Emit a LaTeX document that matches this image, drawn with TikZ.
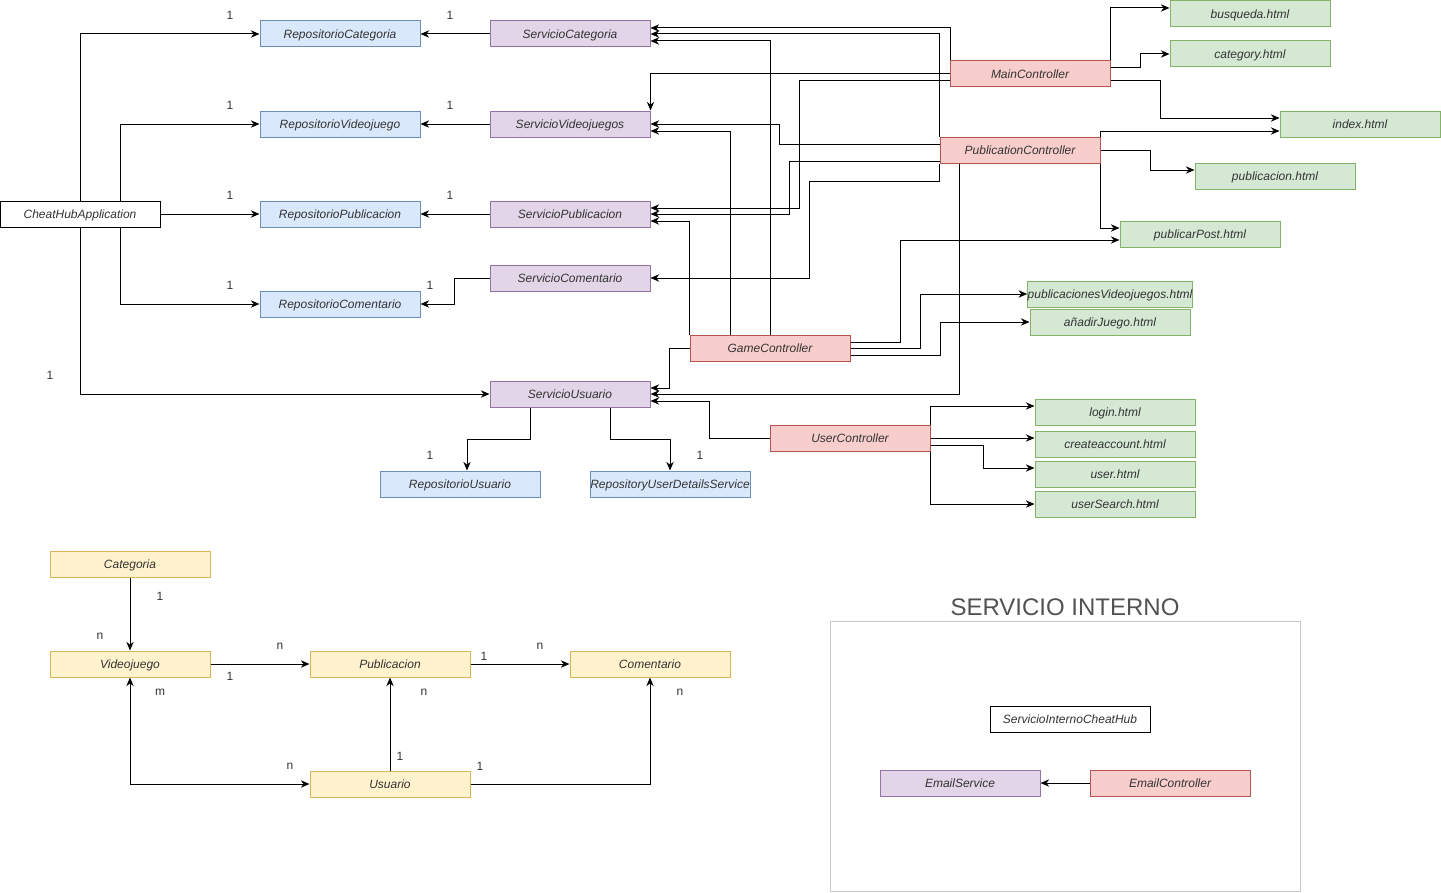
\documentclass[tikz,border=0pt]{standalone}
\usepackage{fontspec}
\setmainfont{Liberation Sans}
\usetikzlibrary{arrows.meta,calc}
\definecolor{repoF}{HTML}{DAE8FC}\definecolor{repoD}{HTML}{6C8EBF}
\definecolor{servF}{HTML}{E1D5E7}\definecolor{servD}{HTML}{9673A6}
\definecolor{ctrlF}{HTML}{F8CECC}\definecolor{ctrlD}{HTML}{B85450}
\definecolor{htmlF}{HTML}{D5E8D4}\definecolor{htmlD}{HTML}{82B366}
\definecolor{entF}{HTML}{FFF2CC}\definecolor{entD}{HTML}{D6B656}
\definecolor{txt}{HTML}{333333}
\definecolor{frameD}{HTML}{C8C8C8}
\begin{document}
\begin{tikzpicture}[x=0.75pt,y=-0.75pt,
  box/.style={draw, minimum width=120pt, minimum height=19.5pt, inner sep=0pt,
    text height=8.1pt, text depth=1.9pt,
    font=\itshape\fontsize{9}{11}\selectfont, text=txt, line width=0.75pt},
  plain/.style={box, fill=white, draw=black},
  repo/.style={box, fill=repoF, draw=repoD},
  serv/.style={box, fill=servF, draw=servD},
  ctrl/.style={box, fill=ctrlF, draw=ctrlD},
  page/.style={box, fill=htmlF, draw=htmlD},
  ent/.style={box, fill=entF, draw=entD},
  arr/.style={-{Stealth[length=6.5pt,width=5.5pt]}, line width=0.75pt},
  dblarr/.style={{Stealth[length=6.5pt,width=5.5pt]}-{Stealth[length=6.5pt,width=5.5pt]}, line width=0.75pt},
  lbl/.style={font=\fontsize{9}{11}\selectfont, text=txt, inner sep=0pt}
]
\useasboundingbox (0,0) rectangle (1441,892);

% ---------- nodes ----------
\node[plain] (app) at (80,214) {CheatHubApplication};
\node[repo] (rc) at (340,34) {RepositorioCategoria};
\node[repo] (rv) at (340,124) {RepositorioVideojuego};
\node[repo] (rp) at (340,214) {RepositorioPublicacion};
\node[repo] (rcom) at (340,304) {RepositorioComentario};
\node[serv] (sc) at (570,34) {ServicioCategoria};
\node[serv] (sv) at (570,124) {ServicioVideojuegos};
\node[serv] (sp) at (570,214) {ServicioPublicacion};
\node[serv] (scom) at (570,278) {ServicioComentario};
\node[serv] (su) at (570,394) {ServicioUsuario};
\node[repo] (ru) at (460,484) {RepositorioUsuario};
\node[repo] (rud) at (670,484) {RepositoryUserDetailsService};
\node[ctrl] (mc) at (1030,74) {MainController};
\node[ctrl] (pc) at (1020,150) {PublicationController};
\node[ctrl] (gc) at (770,348) {GameController};
\node[ctrl] (uc) at (850,438) {UserController};
\node[page] (bq) at (1250,14) {busqueda.html};
\node[page] (cat) at (1250,54) {category.html};
\node[page] (idx) at (1360,124) {index.html};
\node[page] (pub) at (1275,176) {publicacion.html};
\node[page] (pp) at (1200,234) {publicarPost.html};
\node[page] (pvj) at (1110,294) {publicacionesVideojuegos.html};
\node[page] (aj) at (1110,322) {añadirJuego.html};
\node[page] (login) at (1115,412) {login.html};
\node[page] (ca) at (1115,444) {createaccount.html};
\node[page] (usr) at (1115,474) {user.html};
\node[page] (us) at (1115,504) {userSearch.html};

\node[ent] (ecat) at (130,564) {Categoria};
\node[ent] (evj) at (130,664) {Videojuego};
\node[ent] (epub) at (390,664) {Publicacion};
\node[ent] (ecom) at (650,664) {Comentario};
\node[ent] (eusr) at (390,784) {Usuario};

\draw[frameD, line width=0.75pt] (830,621) rectangle (1300,891);
\node[font=\fontsize{18}{22}\selectfont, text=txt!85!white, inner sep=0pt] (title) at (1065,607) {SERVICIO INTERNO};
\node[plain] (sich) at (1070,719) {ServicioInternoCheatHub};
\node[serv] (es) at (960,783) {EmailService};
\node[ctrl] (ec) at (1170,783) {EmailController};

% ---------- application -> repos ----------
\draw[arr] (app.north) |- (rc);
\draw[arr] ($(app.north)+(40,0)$) |- (rv);
\draw[arr] (app) -- (rp);
\draw[arr] ($(app.south)+(40,0)$) |- (rcom);
\draw[arr] (app.south) |- (su);

% ---------- services -> repos ----------
\draw[arr] (sc) -- (rc);
\draw[arr] (sv) -- (rv);
\draw[arr] (sp) -- (rp);
\draw[arr] (scom.west) -- ++(-35,0) |- (rcom.east);
\draw[arr] ($(su.south)+(-40,0)$) -- ++(0,32) -| ($(ru.north)+(7,0)$);
\draw[arr] ($(su.south)+(40,0)$) -- ++(0,32) -| (rud.north);

% ---------- MainController ----------
\draw[arr] ($(mc.north west)+(1,0)$) |- ($(sc.east)+(0,-6)$);
\draw[arr] (mc.west) -| (sv.north east);
\draw[arr] ($(mc.west)+(0,7)$) -- ++(-150,0) |- ($(sp.east)+(0,-6)$);
\draw[arr] (mc.north east) |- ($(bq.west)+(0,-6)$);
\draw[arr] ($(mc.east)+(0,-6)$) -- ++(30,0) |- (cat.west);
\draw[arr] ($(mc.east)+(0,7)$) -- ++(50,0) |- ($(idx.west)+(0,-6)$);

% ---------- PublicationController ----------
\draw[arr] (pc.north west) |- (sc.east);
\draw[arr] (pc.south west) -- ++(0,18) -- ++(-130,0) |- (scom.east);
\draw[arr] ($(pc.west)+(0,-6)$) -- ++(-160,0) |- (sv.east);
\draw[arr] ($(pc.west)+(0,11)$) -- ++(-150,0) |- (sp.east);
\draw[arr] ($(pc.south west)+(20,0)$) |- (su.east);
\draw[arr] (pc.north east) |- ($(idx.west)+(0,7)$);
\draw[arr] (pc.east) -- ++(50,0) |- ($(pub.west)+(0,-6)$);
\draw[arr] (pc.south east) |- ($(pp.west)+(0,-6)$);

% ---------- GameController ----------
\draw[arr] (gc.north) |- ($(sc.east)+(0,7)$);
\draw[arr] ($(gc.north)+(-40,0)$) |- ($(sv.east)+(0,7)$);
\draw[arr] (gc.north west) |- ($(sp.east)+(0,7)$);
\draw[arr] (gc.west) -- ++(-20,0) |- ($(su.east)+(0,-6)$);
\draw[arr] ($(gc.east)+(0,-6)$) -- ++(50,0) |- ($(pp.west)+(0,6)$);
\draw[arr] (gc.east) -- ++(70,0) |- (pvj.west);
\draw[arr] ($(gc.east)+(0,7)$) -- ++(90,0) |- (aj.west);

% ---------- UserController ----------
\draw[arr] (uc.west) -- ++(-60,0) |- ($(su.east)+(0,7)$);
\draw[arr] (uc.north east) |- ($(login.west)+(0,-6)$);
\draw[arr] (uc.east) -- (uc.east -| ca.west);
\draw[arr] ($(uc.east)+(0,7)$) -- ++(53,0) |- ($(usr.west)+(0,-6)$);
\draw[arr] (uc.south east) |- (us.west);

% ---------- entities ----------
\draw[arr] (ecat) -- (evj);
\draw[arr] (evj) -- (epub);
\draw[arr] (epub) -- (ecom);
\draw[arr] (eusr) -- (epub);
\draw[arr] (eusr.east) -| (ecom.south);
\draw[dblarr] (evj.south) |- (eusr.west);

% ---------- email ----------
\draw[arr] (ec) -- (es);

% ---------- multiplicity labels ----------
\node[lbl] (l1) at (230,15) {1};
\node[lbl] (l2) at (450,15) {1};
\node[lbl] (l3) at (230,105) {1};
\node[lbl] (l4) at (450,105) {1};
\node[lbl] (l5) at (230,195) {1};
\node[lbl] (l6) at (450,195) {1};
\node[lbl] (l7) at (230,285) {1};
\node[lbl] (l8) at (430,285) {1};
\node[lbl] (l9) at (50,375) {1};
\node[lbl] (l10) at (430,455) {1};
\node[lbl] (l11) at (700,455) {1};

\node[lbl] (m1) at (160,596) {1};
\node[lbl] (m2) at (100,636) {n};
\node[lbl] (m3) at (280,646) {n};
\node[lbl] (m4) at (230,676) {1};
\node[lbl] (m5) at (160,692) {m};
\node[lbl] (m6) at (484,656) {1};
\node[lbl] (m7) at (540,646) {n};
\node[lbl] (m8) at (424,692) {n};
\node[lbl] (m9) at (680,692) {n};
\node[lbl] (m10) at (400,756) {1};
\node[lbl] (m11) at (290,766) {n};
\node[lbl] (m12) at (480,766) {1};
\end{tikzpicture}
\end{document}
